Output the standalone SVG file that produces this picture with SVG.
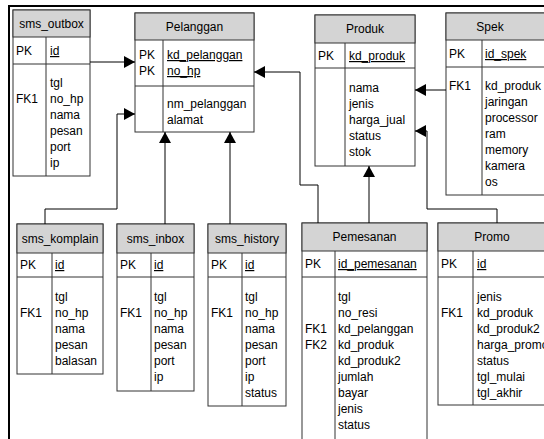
<svg xmlns="http://www.w3.org/2000/svg" width="544" height="439" viewBox="0 0 544 439">
<defs>
<style>
.bx{fill:#fff;stroke:#333;stroke-width:1}
.hd{fill:#d4d4d4;stroke:#333;stroke-width:1}
.ln{stroke:#333;stroke-width:1;fill:none}
text{font-family:"Liberation Sans",Arial,sans-serif;font-size:12px;fill:#000}
.c{text-anchor:middle}
.u{text-decoration:underline}
.conn path{fill:none;stroke:#000;stroke-width:1}
</style>
<marker id="ah" markerUnits="userSpaceOnUse" markerWidth="12" markerHeight="12" refX="11" refY="6" orient="auto">
<path d="M0,0 L11,6 L0,12 z" fill="#000"/>
</marker>
</defs>
<rect width="544" height="439" fill="#fff"/>
<path d="M9,439 V6 H544" fill="none" stroke="#000" stroke-width="2"/>

<g id="sms_outbox">
<rect class="bx" x="13" y="10" width="77" height="166"/>
<rect class="hd" x="13" y="10" width="77" height="27"/>
<path class="ln" d="M13,64 H90 M46,37 V176"/>
<text class="c" x="51.5" y="28">sms_outbox</text>
<text x="16" y="55">PK</text><text class="u" x="50" y="55">id</text>
<text x="16" y="103">FK1</text>
<text x="50" y="87">tgl</text><text x="50" y="103">no_hp</text><text x="50" y="119">nama</text><text x="50" y="135">pesan</text><text x="50" y="151">port</text><text x="50" y="167">ip</text>
</g>

<g id="pelanggan">
<rect class="bx" x="135" y="13" width="119" height="119"/>
<rect class="hd" x="135" y="13" width="119" height="27"/>
<path class="ln" d="M135,86 H254 M163,40 V132"/>
<text class="c" x="194.5" y="31">Pelanggan</text>
<text x="139" y="59">PK</text><text class="u" x="167" y="59">kd_pelanggan</text>
<text x="139" y="75">PK</text><text class="u" x="167" y="75">no_hp</text>
<text x="167" y="108">nm_pelanggan</text><text x="167" y="124">alamat</text>
</g>

<g id="produk">
<rect class="bx" x="315" y="15" width="100" height="151"/>
<rect class="hd" x="315" y="15" width="100" height="28"/>
<path class="ln" d="M315,68 H415 M345,43 V166"/>
<text class="c" x="365" y="33">Produk</text>
<text x="318" y="60">PK</text><text class="u" x="349" y="60">kd_produk</text>
<text x="349" y="92">nama</text><text x="349" y="108">jenis</text><text x="349" y="124">harga_jual</text><text x="349" y="140">status</text><text x="349" y="156">stok</text>
</g>

<g id="spek">
<rect class="bx" x="446" y="13" width="110" height="182"/>
<rect class="hd" x="446" y="13" width="110" height="27"/>
<path class="ln" d="M446,67 H556 M482,40 V195"/>
<text class="c" x="490" y="31">Spek</text>
<text x="449" y="58">PK</text><text class="u" x="485" y="58">id_spek</text>
<text x="449" y="90">FK1</text>
<text x="485" y="90">kd_produk</text><text x="485" y="106">jaringan</text><text x="485" y="122">processor</text><text x="485" y="138">ram</text><text x="485" y="154">memory</text><text x="485" y="170">kamera</text><text x="485" y="186">os</text>
</g>

<g id="sms_komplain">
<rect class="bx" x="17" y="224" width="86" height="150"/>
<rect class="hd" x="17" y="224" width="86" height="29"/>
<path class="ln" d="M17,277 H103 M52,253 V374"/>
<text class="c" x="60" y="243">sms_komplain</text>
<text x="20" y="269">PK</text><text class="u" x="55" y="269">id</text>
<text x="20" y="317">FK1</text>
<text x="55" y="301">tgl</text><text x="55" y="317">no_hp</text><text x="55" y="333">nama</text><text x="55" y="349">pesan</text><text x="55" y="365">balasan</text>
</g>

<g id="sms_inbox">
<rect class="bx" x="117" y="224" width="77" height="167"/>
<rect class="hd" x="117" y="224" width="77" height="29"/>
<path class="ln" d="M117,277 H194 M151,253 V391"/>
<text class="c" x="155.5" y="243">sms_inbox</text>
<text x="120" y="269">PK</text><text class="u" x="154" y="269">id</text>
<text x="120" y="317">FK1</text>
<text x="154" y="301">tgl</text><text x="154" y="317">no_hp</text><text x="154" y="333">nama</text><text x="154" y="349">pesan</text><text x="154" y="365">port</text><text x="154" y="381">ip</text>
</g>

<g id="sms_history">
<rect class="bx" x="208" y="224" width="78" height="182"/>
<rect class="hd" x="208" y="224" width="78" height="29"/>
<path class="ln" d="M208,277 H286 M242,253 V406"/>
<text class="c" x="247" y="243">sms_history</text>
<text x="211" y="269">PK</text><text class="u" x="245" y="269">id</text>
<text x="211" y="317">FK1</text>
<text x="245" y="301">tgl</text><text x="245" y="317">no_hp</text><text x="245" y="333">nama</text><text x="245" y="349">pesan</text><text x="245" y="365">port</text><text x="245" y="381">ip</text><text x="245" y="397">status</text>
</g>

<g id="pemesanan">
<rect class="bx" x="302" y="223" width="125" height="230"/>
<rect class="hd" x="302" y="223" width="125" height="28"/>
<path class="ln" d="M302,277 H427 M335,251 V453"/>
<text class="c" x="364.5" y="241">Pemesanan</text>
<text x="305" y="268">PK</text><text class="u" x="338" y="268">id_pemesanan</text>
<text x="305" y="333">FK1</text><text x="305" y="349">FK2</text>
<text x="338" y="301">tgl</text><text x="338" y="317">no_resi</text><text x="338" y="333">kd_pelanggan</text><text x="338" y="349">kd_produk</text><text x="338" y="365">kd_produk2</text><text x="338" y="381">jumlah</text><text x="338" y="397">bayar</text><text x="338" y="413">jenis</text><text x="338" y="429">status</text>
</g>

<g id="promo">
<rect class="bx" x="438" y="223" width="108" height="182"/>
<rect class="hd" x="438" y="223" width="108" height="28"/>
<path class="ln" d="M438,277 H546 M473,251 V405"/>
<text class="c" x="492" y="241">Promo</text>
<text x="441" y="268">PK</text><text class="u" x="477" y="268">id</text>
<text x="441" y="317">FK1</text>
<text x="477" y="301">jenis</text><text x="477" y="317">kd_produk</text><text x="477" y="333">kd_produk2</text><text x="477" y="349">harga_promo</text><text x="477" y="365">status</text><text x="477" y="381">tgl_mulai</text><text x="477" y="397">tgl_akhir</text>
</g>

<g id="connectors" class="conn">
<path d="M90,62 H135" marker-end="url(#ah)"/>
<path d="M45,224 V209 H117 V114 H135" marker-end="url(#ah)"/>
<path d="M165,224 V132" marker-end="url(#ah)"/>
<path d="M230,224 V132" marker-end="url(#ah)"/>
<path d="M318,223 V185 H300 V72 H254" marker-end="url(#ah)"/>
<path d="M369,223 V166" marker-end="url(#ah)"/>
<path d="M446,90 H415" marker-end="url(#ah)"/>
<path d="M497,223 V209 H427 V131 H415" marker-end="url(#ah)"/>
</g>
</svg>
